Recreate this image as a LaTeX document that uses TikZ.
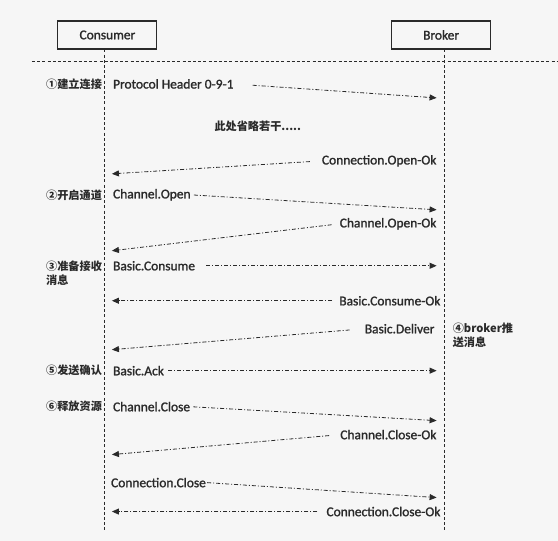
\documentclass[tikz,border=0pt]{standalone}
\usepackage{fontspec}
\setmainfont{Carlito}[FakeBold=1.4]
\newfontfamily\cjk{Noto Sans CJK SC}
\usetikzlibrary{arrows.meta}
\definecolor{figink}{HTML}{2A2A2A}
\definecolor{figpaper}{HTML}{F6F6F6}
\tikzset{
  actor/.style={draw=figink,line width=1.1pt,minimum width=99bp,minimum height=28bp,inner sep=0pt,text=figink,font=\fontsize{13.5}{15}\selectfont},
  life/.style={figink,line width=1pt,dash pattern=on 3bp off 2.2bp},
  msg/.style={figink,line width=0.8pt,dash pattern=on 4bp off 2bp on 1bp off 2bp,-{Triangle[length=7bp,width=6bp]}},
  lbl/.style={inner sep=0pt,text=figink,font=\fontsize{13.5}{15}\selectfont},
  stage/.style={inner sep=0pt,anchor=west,align=left,text=figink,font=\cjk\bfseries\fontsize{11.2}{14.5}\selectfont},
}
\begin{document}
\begin{tikzpicture}[x=1bp,y=-1bp]
    \fill[figpaper] (0,0) rectangle (558,541);
    % participants and lifelines
    \node[actor] (consumer) at (107.5,35) {Consumer};
    \node[actor] (broker) at (441.5,35) {Broker};
    \coordinate (cend) at (104.5,530);
    \coordinate (bend) at (445,530);
    \draw[life] (consumer.south -| cend) -- (cend);
    \draw[life] (broker.south -| bend) -- (bend);
    \draw[life] (32,62) -- (558,62);
    % steps on the left
    \node[stage] (s1) at (46,84) {①建立连接};
    \node[stage] (s2) at (46,195) {②开启通道};
    \node[stage] (s3) at (46,273.5) {③准备接收\\消息};
    \node[stage] (s5) at (46,371) {⑤发送确认};
    \node[stage] (s6) at (46,407) {⑥释放资源};
    \node[stage] (s4) at (453,335.5) {④broker推\\送消息};
    \node[stage,anchor=center] (skip) at (258,126) {此处省略若干.....};
    % messages
    \node[lbl,anchor=west] (hdr) at (113,84) {Protocol Header 0-9-1};
    \node[lbl,anchor=east] (conok) at (437,161) {Connection.Open-Ok};
    \node[lbl,anchor=west] (chopen) at (113,195) {Channel.Open};
    \node[lbl,anchor=east] (chok) at (437,224) {Channel.Open-Ok};
    \node[lbl,anchor=west] (bcons) at (113,266) {Basic.Consume};
    \node[lbl,anchor=east] (bconsok) at (441,301) {Basic.Consume-Ok};
    \node[lbl,anchor=east] (bdel) at (435,329) {Basic.Deliver};
    \node[lbl,anchor=west] (back) at (113,371) {Basic.Ack};
    \node[lbl,anchor=west] (chclose) at (113,407) {Channel.Close};
    \node[lbl,anchor=east] (chcloseok) at (437,435) {Channel.Close-Ok};
    \node[lbl,anchor=west] (conclose) at (111,483) {Connection.Close};
    \node[lbl,anchor=east] (concloseok) at (441,512) {Connection.Close-Ok};
    \coordinate (b1) at (437,98);
    \coordinate (c1) at (112,174);
    \coordinate (b2) at (437,210);
    \coordinate (c2) at (112,251);
    \coordinate (b3) at (437,266);
    \coordinate (c3) at (112,301);
    \coordinate (c4) at (112,350);
    \coordinate (b5) at (437,371);
    \coordinate (b6) at (437,421);
    \coordinate (c6) at (112,455);
    \coordinate (b7) at (437,498);
    \coordinate (c7) at (112,512);
    \draw[msg,shorten <=19bp] (hdr.east) -- (b1);
    \draw[msg,shorten <=12bp] (conok.west) -- (c1);
    \draw[msg,shorten <=3bp] (chopen.east) -- (b2);
    \draw[msg,shorten <=8bp] (chok.west) -- (c2);
    \draw[msg,shorten <=11bp] (bcons.east) -- (b3);
    \draw[msg,shorten <=7bp] (bconsok.west) -- (c3);
    \draw[msg,shorten <=15bp] (bdel.west) -- (c4);
    \draw[msg,shorten <=4bp] (back.east) -- (b5);
    \draw[msg,shorten <=3bp] (chclose.east) -- (b6);
    \draw[msg,shorten <=11bp] (chcloseok.west) -- (c6);
    \draw[msg,shorten <=1bp] (conclose.east) -- (b7);
    \draw[msg,shorten <=9bp] (concloseok.west) -- (c7);
\end{tikzpicture}
\end{document}
